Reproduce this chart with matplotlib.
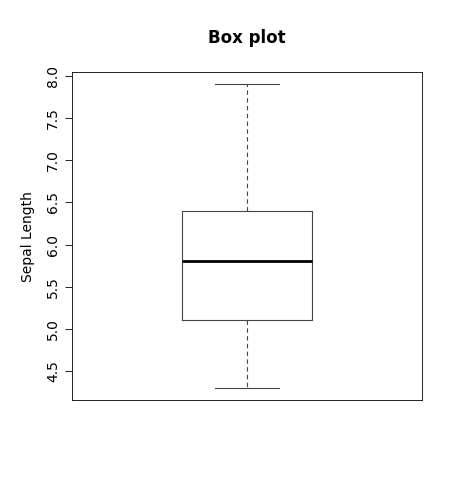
import matplotlib
matplotlib.use("Agg")
import matplotlib.pyplot as plt

# five-number summary of sepal length
stat_names = ["whislo", "q1", "med", "q3", "whishi"]
stat_values = [4.3, 5.1, 5.8, 6.4, 7.9]
yticks = [4.5, 5.0, 5.5, 6.0, 6.5, 7.0, 7.5, 8.0]

stats = [dict(zip(stat_names, stat_values), fliers=[])]

fig = plt.figure(figsize=(4.59, 4.90), dpi=100)
ax = fig.add_axes([0.157, 0.1837, 0.762, 0.669])
ax.bxp(
    stats,
    positions=[1],
    widths=0.371,
    showfliers=False,
    boxprops=dict(color="#444444", linewidth=0.8),
    medianprops=dict(color="black", linewidth=2),
    whiskerprops=dict(color="#444444", linewidth=0.8, linestyle=(0, (4, 3))),
    capprops=dict(color="#444444", linewidth=0.8),
    capwidths=0.1855,
)
ax.set_xlim(0.5, 1.5)
ax.set_ylim(4.156, 8.044)
ax.set_xticks([])
ax.set_yticks(yticks)
ax.set_yticklabels([f"{v:.1f}" for v in yticks], rotation=90, va="center", fontsize=10)
ax.tick_params(axis="y", length=5, width=0.6)
for s in ax.spines.values():
    s.set_linewidth(0.6)
ax.set_ylabel("Sepal Length", fontsize=10, labelpad=8)
fig.text(0.538, 0.922, "Box plot", ha="center", va="center", fontsize=12, fontweight="bold")
fig.savefig("out.png", dpi=100)
